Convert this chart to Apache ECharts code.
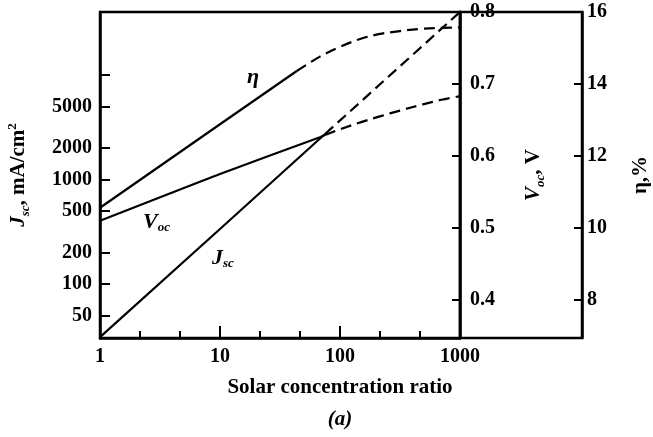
<!DOCTYPE html>
<html><head><meta charset="utf-8">
<script src="https://cdn.jsdelivr.net/npm/echarts@6/dist/echarts.min.js"></script>
<style>html,body{margin:0;padding:0;background:#fff}#c{width:653px;height:437px}</style>
</head><body><div id="c"></div>
<script>
// ---- data ----
const jscTicks = [50, 100, 200, 500, 1000, 2000, 5000, 10000];
const jscLabels = [50, 100, 200, 500, 1000, 2000, 5000];
const vocTicks = [0.4, 0.5, 0.6, 0.7, 0.8];
const etaTicks = [8, 10, 12, 14, 16];
const xMinorTicks = [2.15, 4.64, 21.5, 46.4, 215, 464];

const jscSolid = [[1, 31], [10, 336], [75, 2725]];
const jscDashed = [[75, 2725], [1000, 40100]];
const vocSolid = [[1, 0.51], [6.8, 0.564], [10, 0.575], [68, 0.626], [75, 0.629]];
const vocDashed = [[75, 0.629], [100, 0.637], [150, 0.647], [215, 0.655], [316, 0.663], [500, 0.672], [700, 0.678], [1000, 0.683]];
const etaSolid = [[1, 10.56], [10, 12.88], [43.6, 14.36]];
const etaDashed = [[43.6, 14.36], [68, 14.76], [100, 15.03], [147, 15.25], [215, 15.39], [316, 15.47], [464, 15.53], [681, 15.56], [1000, 15.57]];

// ---- styles ----
const FF = '"Liberation Serif", "Times New Roman", serif';
const black = '#000';
const axisLine = {show: true, onZero: false, lineStyle: {color: black, width: 2.5}};
const lab = {color: black, fontFamily: FF, fontSize: 20, fontWeight: 'bold'};
const nameRich = {
  i: {fontFamily: FF, fontSize: 21, fontStyle: 'italic', fontWeight: 'bold', color: black, lineHeight: 26},
  s: {fontFamily: FF, fontSize: 13, fontStyle: 'italic', fontWeight: 'bold', color: black, lineHeight: 26, verticalAlign: 'bottom'},
  n: {fontFamily: FF, fontSize: 21, fontWeight: 'bold', color: black, lineHeight: 26},
  p: {fontFamily: FF, fontSize: 13, fontWeight: 'bold', color: black, lineHeight: 26, verticalAlign: 'top'}
};
const dash = [11, 6];

function lineSeries(data, yIdx, dashed, smooth) {
  return {
    type: 'line', xAxisIndex: 0, yAxisIndex: yIdx, data: data,
    showSymbol: false, symbol: 'none', smooth: smooth ? 0.35 : false,
    lineStyle: {color: black, width: 2.2, type: dashed ? dash : 'solid'},
    z: 3
  };
}

const chart = echarts.init(document.getElementById('c'), null, {renderer: 'canvas'});
chart.setOption({
  animation: false,
  backgroundColor: '#fff',
  grid: [
    {left: 100, top: 12, width: 360, height: 326, show: true, borderColor: black, borderWidth: 2.5, containLabel: false, outerBoundsMode: 'none'},
    {left: 460, top: 12, width: 122, height: 326, show: true, borderColor: black, borderWidth: 2.5, containLabel: false, outerBoundsMode: 'none'}
  ],
  xAxis: [
    {gridIndex: 0, type: 'log', logBase: 10, min: 1, max: 1000,
     axisLine: axisLine,
     axisTick: {inside: true, length: 12, lineStyle: {color: black, width: 2}},
     minorTick: {show: false},
     splitLine: {show: false},
     axisLabel: Object.assign({margin: 9, formatter: v => String(Math.round(v))}, lab)},
    {gridIndex: 0, type: 'log', logBase: 10, min: 1, max: 1000, position: 'bottom',
     axisLine: {show: false},
     axisTick: {inside: true, length: 7, customValues: xMinorTicks, lineStyle: {color: black, width: 2}},
     axisLabel: {show: false}, splitLine: {show: false}},
    {gridIndex: 1, type: 'value', show: false}
  ],
  yAxis: [
    {gridIndex: 0, type: 'log', logBase: 10, min: 30.4, max: 40100, position: 'left',
     axisLine: axisLine,
     axisTick: {inside: true, length: 10, customValues: jscTicks, lineStyle: {color: black, width: 2}},
     axisLabel: Object.assign({margin: 8, customValues: jscLabels, formatter: v => String(Math.round(v))}, lab),
     splitLine: {show: false},
     name: '{i|J}{s|sc}{n|, mA/cm}{p|2}', nameLocation: 'middle', nameGap: 68,
     nameTextStyle: {rich: nameRich}},
    {gridIndex: 0, type: 'value', min: 0.347, max: 0.8, position: 'right',
     axisLine: axisLine,
     axisTick: {inside: true, length: 8, customValues: vocTicks, lineStyle: {color: black, width: 2}},
     axisLabel: Object.assign({margin: 10, customValues: vocTicks, formatter: v => Number(v).toFixed(1)}, lab),
     splitLine: {show: false},
     name: '{i|V}{s|oc}{n|, V}', nameLocation: 'middle', nameGap: 61,
     nameTextStyle: {rich: nameRich}},
    {gridIndex: 0, type: 'value', min: 6.94, max: 16, position: 'right', offset: 122,
     axisLine: axisLine,
     axisTick: {inside: true, length: 8, customValues: etaTicks, lineStyle: {color: black, width: 2}},
     axisLabel: Object.assign({margin: 5, customValues: etaTicks}, lab),
     splitLine: {show: false},
     name: '{n|η,%}', nameLocation: 'middle', nameGap: 46,
     nameTextStyle: {rich: nameRich}},
    {gridIndex: 1, type: 'value', show: false}
  ],
  series: [
    lineSeries(jscSolid, 0, false, false),
    lineSeries(jscDashed, 0, true, false),
    lineSeries(vocSolid, 1, false, true),
    lineSeries(vocDashed, 1, true, true),
    lineSeries(etaSolid, 2, false, false),
    lineSeries(etaDashed, 2, true, true)
  ],
  graphic: [
    {type: 'text', x: 253, y: 77, style: {text: 'η', font: 'italic bold 22px ' + FF, fill: black, textAlign: 'center', textVerticalAlign: 'middle'}},
    {type: 'text', x: 143, y: 210, style: {text: '{v|V}{s|oc}', rich: {
      v: {fontFamily: FF, fontSize: 22, fontStyle: 'italic', fontWeight: 'bold', fill: black, lineHeight: 24},
      s: {fontFamily: FF, fontSize: 13, fontStyle: 'italic', fontWeight: 'bold', fill: black, lineHeight: 24, verticalAlign: 'bottom'}}}},
    {type: 'text', x: 212, y: 246, style: {text: '{v|J}{s|sc}', rich: {
      v: {fontFamily: FF, fontSize: 22, fontStyle: 'italic', fontWeight: 'bold', fill: black, lineHeight: 24},
      s: {fontFamily: FF, fontSize: 13, fontStyle: 'italic', fontWeight: 'bold', fill: black, lineHeight: 24, verticalAlign: 'bottom'}}}},
    {type: 'text', x: 340, y: 388, style: {text: 'Solar concentration ratio', font: 'bold 21px ' + FF, fill: black, textAlign: 'center', textVerticalAlign: 'middle'}},
    {type: 'text', x: 340, y: 420, style: {text: '(a)', font: 'italic bold 21px ' + FF, fill: black, textAlign: 'center', textVerticalAlign: 'middle'}}
  ]
});
</script></body></html>
